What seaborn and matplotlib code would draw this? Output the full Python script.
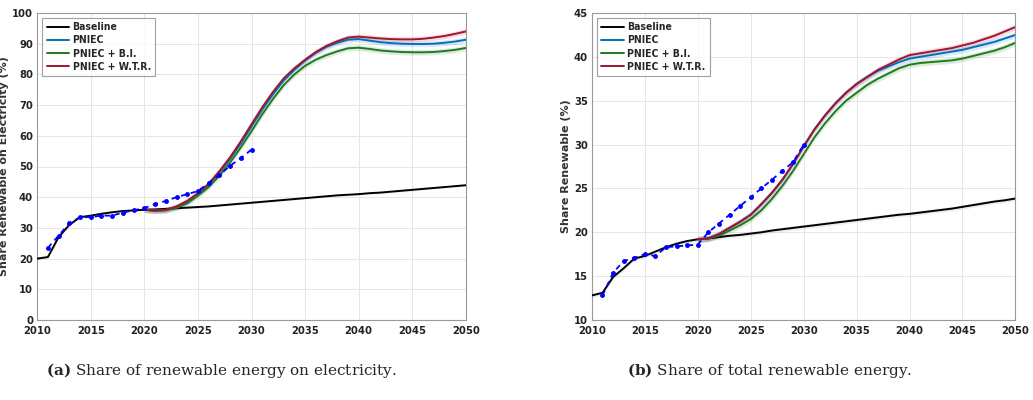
import numpy as np
import pandas as pd
import matplotlib
matplotlib.use("Agg")
import matplotlib.pyplot as plt
import seaborn as sns
from matplotlib import font_manager

years = list(range(2010, 2051))
years_scn = list(range(2020, 2051))
years_tgt = list(range(2011, 2031))

# ---- (a) electricity ----
a_baseline = [20, 20.5, 27, 31, 33.5, 34, 34.6, 35.1, 35.5, 35.7, 35.9, 36.0, 36.2, 36.4, 36.6,
              36.8, 37.0, 37.3, 37.6, 37.9, 38.2, 38.5, 38.8, 39.1, 39.4, 39.7, 40.0, 40.3, 40.6,
              40.8, 41.0, 41.3, 41.5, 41.8, 42.1, 42.4, 42.7, 43.0, 43.3, 43.6, 43.9]
a_pniec = [35.9, 35.6, 35.8, 36.8, 38.5, 41.0, 44.0, 48.0, 52.5, 57.5, 63.0, 68.5, 73.5, 78.0, 81.5,
           84.5, 87.0, 89.0, 90.3, 91.3, 91.5, 91.0, 90.5, 90.2, 90.0, 89.9, 89.9, 90.0, 90.3, 90.7, 91.3]
a_bi = [35.9, 35.6, 35.7, 36.5, 38.0, 40.5, 43.3, 47.0, 51.3, 56.2, 61.5, 67.0, 72.0, 76.5, 80.0,
        82.8, 84.8, 86.3, 87.5, 88.5, 88.7, 88.3, 87.8, 87.5, 87.3, 87.2, 87.2, 87.3, 87.6, 88.0, 88.6]
a_wtr = [35.9, 35.6, 35.9, 37.0, 38.8, 41.3, 44.4, 48.5, 53.0, 58.2, 63.8, 69.3, 74.3, 78.7, 82.0,
         84.8, 87.3, 89.3, 90.8, 92.0, 92.3, 92.0, 91.7, 91.5, 91.4, 91.4, 91.6, 92.0, 92.5, 93.2, 94.0]
a_target = [23.5, 27.5, 31.5, 33.5, 33.5, 34.0, 34.0, 35.0, 35.7, 36.5, 37.7, 38.8, 40.0, 41.0,
            42.0, 44.7, 47.3, 50.2, 52.8, 55.5]

# ---- (b) total ----
b_baseline = [12.8, 13.1, 14.9, 15.9, 17.0, 17.3, 17.8, 18.3, 18.7, 19.0, 19.2, 19.3, 19.45, 19.6,
              19.7, 19.85, 20.0, 20.2, 20.35, 20.5, 20.65, 20.8, 20.95, 21.1, 21.25, 21.4, 21.55,
              21.7, 21.85, 22.0, 22.1, 22.25, 22.4, 22.55, 22.7, 22.9, 23.1, 23.3, 23.5, 23.65, 23.85]
b_pniec = [19.2, 19.3, 19.8, 20.5, 21.2, 22.0, 23.2, 24.5, 26.0, 27.8, 29.8, 31.7, 33.3, 34.7, 35.9,
           36.9, 37.7, 38.4, 38.9, 39.4, 39.8, 40.0, 40.2, 40.4, 40.6, 40.8, 41.1, 41.4, 41.7, 42.1, 42.5]
b_bi = [19.2, 19.3, 19.6, 20.2, 20.8, 21.5, 22.5, 23.8, 25.3, 27.0, 28.9, 30.8, 32.4, 33.8, 35.0,
        35.9, 36.8, 37.5, 38.1, 38.7, 39.1, 39.3, 39.4, 39.5, 39.6, 39.8, 40.1, 40.4, 40.7, 41.1, 41.6]
b_wtr = [19.2, 19.3, 19.8, 20.5, 21.2, 22.0, 23.2, 24.5, 26.0, 27.8, 29.8, 31.7, 33.3, 34.7, 35.9,
         36.9, 37.7, 38.5, 39.1, 39.7, 40.2, 40.4, 40.6, 40.8, 41.0, 41.3, 41.6, 42.0, 42.4, 42.9, 43.4]
b_target = [12.8, 15.4, 16.7, 17.1, 17.5, 17.3, 18.3, 18.4, 18.5, 18.6, 20.0, 21.0, 22.0, 23.0,
            24.0, 25.0, 26.0, 27.0, 28.0, 30.0]

series_names = ["Baseline", "PNIEC", "PNIEC + B.I.", "PNIEC + W.T.R."]
colors = {"Baseline": "#000000", "PNIEC": "#0072BD", "PNIEC + B.I.": "#1E7B1E",
          "PNIEC + W.T.R.": "#A2142F"}

def long_df(base, pn, bi, wtr):
    rows = []
    for y, v in zip(years, base):
        rows.append((y, v, "Baseline"))
    for name, arr in [("PNIEC", pn), ("PNIEC + B.I.", bi), ("PNIEC + W.T.R.", wtr)]:
        for y, v in zip(years_scn, arr):
            rows.append((y, v, name))
    return pd.DataFrame(rows, columns=["year", "value", "series"])

sns.set_theme(style="whitegrid")
plt.rcParams["font.family"] = ["DejaVu Sans"]
plt.rcParams["mathtext.fontset"] = "dejavuserif"

avail = {f.name for f in font_manager.fontManager.ttflist}
cond = [f for f in font_manager.fontManager.ttflist
        if f.name in ("Liberation Sans Narrow", "DejaVu Sans") and "ondensed" in f.fname + "" and "Bold" in f.fname]
if "Liberation Sans Narrow" in avail:
    tick_fp = font_manager.FontProperties(family="Liberation Sans Narrow", weight="bold", size=8)
elif cond:
    tick_fp = font_manager.FontProperties(fname=cond[0].fname, size=8)
else:
    tick_fp = font_manager.FontProperties(family="DejaVu Sans", weight="bold", size=8)

fig = plt.figure(figsize=(10.33, 4.0), dpi=100)
ax1 = fig.add_axes([0.036, 0.2, 0.415, 0.7675])
ax2 = fig.add_axes([0.573, 0.2, 0.41, 0.7675])

configs = [
    (ax1, long_df(a_baseline, a_pniec, a_bi, a_wtr), a_target, (0, 100), 10,
     "Share Renewable on Electricity (%)", 0.9, 0.35),
    (ax2, long_df(b_baseline, b_pniec, b_bi, b_wtr), b_target, (10, 45), 5,
     "Share Renewable (%)", 0.35, 0.25),
]

for ax, df, tgt, ylim, ystep, ylabel, band, bband in configs:
    for name in series_names:
        sub = df[df.series == name]
        w = bband if name == "Baseline" else band
        col = "#888888" if name == "Baseline" else colors[name]
        ax.fill_between(sub.year, sub.value - w, sub.value + w, color=col, alpha=0.15, lw=0)
    sns.lineplot(data=df, x="year", y="value", hue="series", hue_order=series_names,
                 palette=colors, ax=ax, linewidth=1.4, zorder=3)
    ax.plot(years_tgt, tgt, color="#0000FF", linestyle=(0, (3, 2.5)), linewidth=1.3,
            marker="o", markersize=2.5, zorder=4)
    ax.set_xlim(2010, 2050)
    ax.set_ylim(*ylim)
    ax.set_xticks(range(2010, 2051, 5))
    ax.set_yticks(np.arange(ylim[0], ylim[1] + 0.1, ystep))
    ax.set_xlabel("")
    ax.set_ylabel(ylabel, fontsize=8, fontweight="bold", color="#333333", labelpad=2)
    for lbl in ax.get_xticklabels() + ax.get_yticklabels():
        lbl.set_fontproperties(tick_fp)
        lbl.set_color("#222222")
    ax.tick_params(axis="x", length=0, pad=4)
    ax.tick_params(axis="y", length=0, pad=3)
    ax.grid(True, color="#e6e6e6", linewidth=0.7)
    for s in ax.spines.values():
        s.set_visible(True)
        s.set_color("#999999")
        s.set_linewidth(0.8)
    leg_fp = tick_fp.copy()
    leg_fp.set_size(7.5)
    leg = ax.legend(loc="upper left", frameon=True, fancybox=False,
                    handlelength=2.2, borderpad=0.4, labelspacing=0.3, handletextpad=0.3,
                    borderaxespad=0.5, prop=leg_fp)
    leg.get_frame().set_edgecolor("#888888")
    leg.get_frame().set_linewidth(0.8)

serif = ["DejaVu Serif"]
fig.text(0.214, 0.075, r"$\mathbf{(a)}$ Share of renewable energy on electricity.",
         ha="center", va="center", fontsize=11, family=serif)
fig.text(0.745, 0.075, r"$\mathbf{(b)}$ Share of total renewable energy.",
         ha="center", va="center", fontsize=11, family=serif)

fig.savefig("out.png", dpi=100)
